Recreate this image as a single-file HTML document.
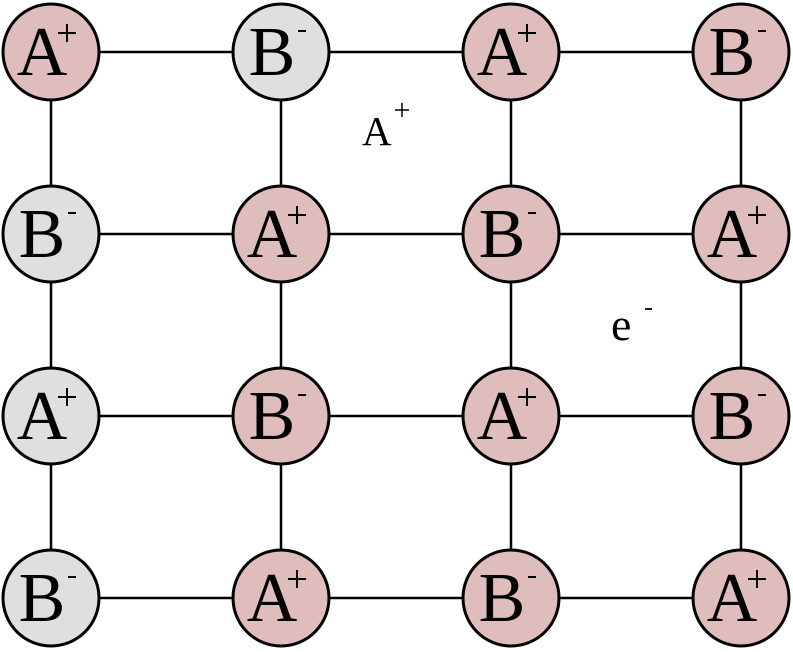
<!DOCTYPE html>
<html><head><meta charset="utf-8"><style>
html,body{margin:0;padding:0;background:#fff;}
svg{display:block;}
</style></head><body>
<svg width="793" height="652" viewBox="0 0 793 652" xmlns="http://www.w3.org/2000/svg" font-family="'Liberation Serif', 'Times New Roman', serif">
<defs>
<g id="p"><line x1="-9" y1="0" x2="9" y2="0"/><line x1="0" y1="-9" x2="0" y2="9"/></g>
<g id="m"><line x1="-4" y1="0" x2="4" y2="0"/></g>
</defs>
<g stroke="#000" stroke-width="2.5">
<line x1="51" y1="52" x2="741" y2="52"/>
<line x1="51" y1="234" x2="741" y2="234"/>
<line x1="51" y1="416" x2="741" y2="416"/>
<line x1="51" y1="598" x2="741" y2="598"/>
<line x1="51" y1="52" x2="51" y2="598"/>
<line x1="281" y1="52" x2="281" y2="598"/>
<line x1="511" y1="52" x2="511" y2="598"/>
<line x1="741" y1="52" x2="741" y2="598"/>
</g>
<g stroke="#000" stroke-width="3">
<circle cx="51" cy="52" r="48" fill="#e0bdbd"/>
<circle cx="281" cy="52" r="48" fill="#e0dfe0"/>
<circle cx="511" cy="52" r="48" fill="#e0bdbd"/>
<circle cx="741" cy="52" r="48" fill="#e0bdbd"/>
<circle cx="51" cy="234" r="48" fill="#e0dfe0"/>
<circle cx="281" cy="234" r="48" fill="#e0bdbd"/>
<circle cx="511" cy="234" r="48" fill="#e0bdbd"/>
<circle cx="741" cy="234" r="48" fill="#e0bdbd"/>
<circle cx="51" cy="416" r="48" fill="#e0dfe0"/>
<circle cx="281" cy="416" r="48" fill="#e0bdbd"/>
<circle cx="511" cy="416" r="48" fill="#e0bdbd"/>
<circle cx="741" cy="416" r="48" fill="#e0bdbd"/>
<circle cx="51" cy="598" r="48" fill="#e0dfe0"/>
<circle cx="281" cy="598" r="48" fill="#e0bdbd"/>
<circle cx="511" cy="598" r="48" fill="#e0bdbd"/>
<circle cx="741" cy="598" r="48" fill="#e0bdbd"/>
</g>
<g font-size="70" text-anchor="middle" fill="#000">
<text x="42" y="75">A</text><text x="272" y="75">B</text><text x="502" y="75">A</text><text x="732" y="75">B</text>
<text x="42" y="257">B</text><text x="272" y="257">A</text><text x="502" y="257">B</text><text x="732" y="257">A</text>
<text x="42" y="439">A</text><text x="272" y="439">B</text><text x="502" y="439">A</text><text x="732" y="439">B</text>
<text x="42" y="621">B</text><text x="272" y="621">A</text><text x="502" y="621">B</text><text x="732" y="621">A</text>
</g>
<g stroke="#000" stroke-width="2">
<use href="#p" x="67" y="33"/><use href="#m" x="302" y="31"/><use href="#p" x="527" y="33"/><use href="#m" x="762" y="31"/>
<use href="#m" x="72" y="213"/><use href="#p" x="297" y="215"/><use href="#m" x="532" y="213"/><use href="#p" x="757" y="215"/>
<use href="#p" x="67" y="397"/><use href="#m" x="302" y="395"/><use href="#p" x="527" y="397"/><use href="#m" x="762" y="395"/>
<use href="#m" x="72" y="577"/><use href="#p" x="297" y="579"/><use href="#m" x="532" y="577"/><use href="#p" x="757" y="579"/>
<line x1="395" y1="110" x2="409" y2="110" stroke-width="1.5"/>
<line x1="402" y1="103" x2="402" y2="117" stroke-width="1.5"/>
<line x1="645" y1="309" x2="652" y2="309" stroke-width="1.8"/>
</g>
<text x="362" y="145" font-size="41" fill="#000">A</text>
<text x="611" y="340" font-size="46" fill="#000">e</text>
</svg>
</body></html>
